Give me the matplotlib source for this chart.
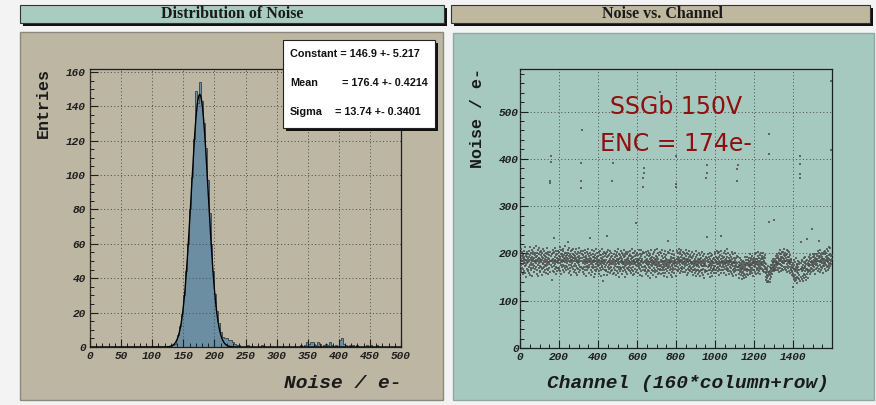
import numpy as np
import matplotlib.pyplot as plt
from matplotlib.patches import Rectangle
from matplotlib.font_manager import FontProperties

W, H = 876, 405

# Noise distribution, 160 bins from 0 to 500 e-
hist_counts = [
    0, 0, 0, 0, 0, 0, 0, 0, 0, 0, 0, 0, 0, 0, 0, 0, 0, 0, 0, 0,
    0, 0, 0, 0, 0, 0, 0, 0, 0, 0, 0, 0, 0, 0, 0, 0, 0, 0, 0, 0,
    0, 0, 1, 2, 4, 7, 12, 19, 30, 44, 60, 80, 99, 121, 149, 142, 154, 143, 130, 116,
    97, 78, 60, 44, 31, 21, 14, 9, 6, 5, 5, 4, 4, 3, 2, 1, 1, 0, 0, 0,
    0, 1, 0, 0, 0, 0, 0, 0, 1, 0, 0, 0, 0, 0, 0, 0, 0, 0, 0, 0,
    0, 0, 0, 0, 0, 0, 0, 0, 1, 0, 1, 3, 2, 3, 3, 2, 1, 3, 2, 0,
    1, 2, 1, 3, 1, 0, 1, 0, 4, 5, 2, 1, 0, 1, 0, 1, 0, 1, 0, 0,
    0, 0, 1, 0, 1, 0, 0, 1, 0, 0, 0, 0, 0, 0, 0, 0, 0, 0, 0, 0,
]
hist_range = (0, 500)

# gaussian fit result
fit_const, fit_const_err = 146.9, 5.217
fit_mean, fit_mean_err = 176.4, 0.4214
fit_sigma, fit_sigma_err = 13.74, 0.3401

# noise per channel (160*column+row), 40 channels per line
noise = [
    182, 171, 199, 165, 188, 176, 210, 160, 185, 194, 170, 183, 203, 157, 178, 190, 196, 167, 181, 206, 186, 162, 193, 189, 174, 213, 180, 158, 187, 199, 175, 186, 150, 195, 179, 168, 204, 184, 192, 163,
    189, 166, 198, 181, 158, 205, 184, 172, 193, 214, 176, 187, 155, 196, 190, 169, 180, 201, 164, 186, 208, 175, 192, 183, 153, 199, 178, 188, 170, 203, 184, 161, 191, 211, 174, 182, 196, 167, 185, 200,
    179, 215, 171, 192, 186, 157, 201, 183, 165, 194, 188, 176, 207, 152, 185, 198, 170, 191, 180, 212, 163, 184, 202, 174, 189, 160, 197, 181, 172, 206, 186, 168, 193, 187, 154, 200, 179, 177, 209, 169,
    190, 172, 197, 161, 184, 205, 176, 188, 166, 194, 182, 173, 201, 158, 185, 193, 168, 180, 211, 175, 187, 199, 164, 182, 191, 156, 203, 178, 170, 189, 196, 181, 160, 185, 204, 172, 192, 179, 167, 183,
    194, 176, 187, 180, 199, 171, 184, 207, 163, 189, 179, 200, 160, 191, 185, 174, 203, 182, 168, 192, 212, 177, 186, 157, 197, 183, 172, 206, 169, 190, 181, 198, 162, 188, 179, 170, 205, 185, 194, 165,
    186, 202, 170, 193, 180, 213, 162, 189, 199, 175, 184, 207, 156, 195, 187, 171, 198, 181, 192, 166, 205, 185, 176, 210, 160, 188, 196, 173, 183, 201, 169, 191, 182, 216, 164, 186, 194, 174, 200, 179,
    183, 197, 172, 190, 208, 167, 188, 180, 201, 158, 194, 185, 175, 212, 170, 191, 182, 199, 163, 187, 205, 176, 185, 195, 155, 192, 180, 207, 172, 186, 198, 168, 190, 183, 209, 161, 185, 196, 174, 191,
    178, 195, 166, 188, 203, 159, 183, 191, 173, 209, 181, 169, 198, 186, 155, 192, 179, 204, 167, 184, 195, 175, 211, 160, 188, 182, 171, 200, 190, 164, 185, 206, 172, 180, 193, 162, 186, 198, 169, 183,
    190, 168, 197, 180, 160, 205, 182, 172, 193, 186, 156, 200, 178, 185, 208, 166, 189, 181, 171, 195, 153, 191, 183, 174, 203, 180, 164, 188, 199, 170, 182, 210, 159, 186, 176, 195, 172, 184, 190, 167,
    182, 201, 164, 188, 178, 154, 196, 184, 171, 207, 180, 160, 192, 183, 169, 199, 176, 187, 150, 193, 181, 172, 205, 166, 185, 190, 157, 197, 178, 183, 172, 209, 162, 188, 180, 192, 168, 200, 175, 185,
    173, 194, 182, 163, 202, 176, 187, 157, 197, 180, 169, 206, 183, 165, 191, 178, 152, 196, 185, 171, 209, 181, 174, 188, 160, 199, 180, 167, 193, 184, 155, 204, 178, 186, 166, 194, 182, 172, 201, 162,
    187, 176, 198, 164, 183, 192, 155, 203, 180, 171, 194, 182, 161, 207, 175, 185, 168, 196, 181, 158, 189, 178, 205, 170, 184, 163, 192, 180, 172, 200, 152, 185, 195, 177, 166, 198, 181, 188, 157, 182,
    178, 198, 169, 186, 158, 206, 181, 174, 192, 165, 185, 196, 154, 183, 178, 203, 172, 188, 163, 194, 182, 171, 210, 159, 187, 180, 167, 199, 177, 189, 151, 196, 181, 172, 191, 162, 205, 184, 169, 193,
    167, 189, 180, 200, 157, 185, 177, 196, 171, 182, 162, 207, 181, 170, 192, 178, 150, 199, 186, 173, 165, 194, 180, 204, 160, 184, 175, 188, 170, 198, 181, 156, 191, 177, 203, 168, 186, 179, 164, 195,
    185, 171, 197, 163, 182, 206, 175, 188, 159, 195, 180, 169, 209, 183, 166, 190, 178, 154, 201, 181, 172, 192, 163, 186, 200, 177, 184, 157, 194, 180, 168, 205, 181, 165, 189, 176, 196, 160, 185, 174,
    181, 201, 166, 189, 177, 158, 196, 184, 173, 208, 170, 186, 180, 155, 199, 178, 191, 167, 185, 207, 162, 182, 194, 175, 171, 198, 183, 152, 188, 179, 166, 203, 176, 186, 160, 192, 181, 172, 200, 163,
    174, 193, 164, 184, 204, 156, 179, 187, 170, 196, 177, 160, 189, 181, 206, 166, 185, 175, 152, 194, 182, 171, 200, 162, 178, 188, 149, 197, 181, 169, 190, 176, 207, 158, 183, 173, 192, 165, 179, 187,
    184, 163, 198, 177, 155, 191, 179, 203, 170, 182, 160, 207, 175, 186, 166, 194, 178, 151, 189, 181, 172, 209, 163, 185, 176, 192, 157, 200, 179, 168, 188, 173, 197, 159, 182, 178, 204, 167, 186, 174,
    166, 187, 176, 201, 157, 181, 172, 194, 164, 184, 207, 169, 178, 159, 190, 182, 171, 198, 152, 185, 176, 165, 192, 179, 205, 158, 183, 173, 188, 167, 178, 197, 150, 186, 175, 182, 162, 203, 172, 180,
    191, 170, 181, 158, 200, 176, 186, 165, 183, 208, 172, 179, 155, 193, 182, 168, 188, 176, 199, 161, 184, 174, 150, 191, 179, 170, 206, 164, 183, 177, 190, 159, 197, 173, 182, 167, 186, 179, 153, 189,
    185, 196, 173, 188, 164, 205, 181, 177, 192, 162, 186, 200, 172, 183, 210, 167, 190, 179, 199, 176, 158, 187, 182, 204, 170, 193, 183, 163, 208, 179, 186, 171, 197, 168, 191, 182, 160, 203, 177, 188,
    181, 201, 170, 190, 178, 160, 199, 185, 174, 207, 165, 188, 179, 194, 155, 183, 200, 176, 186, 168, 198, 181, 159, 189, 183, 172, 206, 178, 166, 192, 185, 162, 187, 197, 173, 182, 167, 193, 179, 170,
    177, 160, 190, 181, 202, 166, 179, 171, 194, 155, 185, 178, 164, 198, 173, 183, 158, 188, 179, 168, 206, 163, 182, 175, 192, 153, 185, 178, 166, 196, 173, 181, 157, 189, 176, 165, 187, 179, 200, 161,
    172, 189, 162, 181, 152, 196, 176, 184, 166, 190, 178, 159, 202, 173, 182, 164, 187, 155, 180, 174, 194, 168, 177, 185, 149, 199, 173, 180, 160, 188, 176, 166, 183, 163, 193, 174, 154, 181, 170, 190,
    179, 163, 187, 171, 199, 156, 182, 175, 166, 192, 173, 181, 151, 189, 177, 164, 201, 174, 185, 159, 180, 170, 195, 162, 176, 184, 153, 197, 168, 179, 189, 165, 182, 173, 158, 191, 170, 180, 204, 166,
    187, 173, 199, 166, 181, 192, 159, 185, 177, 206, 170, 182, 191, 163, 200, 178, 172, 188, 154, 183, 180, 203, 168, 192, 176, 165, 197, 182, 173, 186, 158, 205, 179, 189, 166, 181, 195, 172, 184, 176,
    180, 191, 166, 185, 201, 172, 181, 159, 193, 177, 206, 168, 187, 180, 155, 198, 182, 173, 189, 164, 183, 209, 170, 179, 192, 162, 185, 176, 200, 168, 181, 191, 157, 184, 177, 197, 171, 187, 163, 182,
    175, 185, 161, 192, 170, 180, 203, 157, 177, 188, 164, 182, 174, 198, 152, 181, 191, 168, 179, 160, 186, 174, 201, 163, 180, 170, 190, 154, 182, 176, 165, 195, 172, 180, 159, 188, 177, 164, 193, 171,
    171, 156, 182, 164, 176, 149, 170, 190, 160, 174, 180, 155, 168, 186, 162, 175, 146, 172, 181, 158, 167, 178, 152, 174, 185, 160, 170, 147, 177, 165, 182, 157, 172, 168, 192, 155, 175, 166, 150, 180,
    175, 186, 162, 180, 168, 193, 157, 176, 187, 166, 179, 154, 190, 173, 164, 183, 176, 199, 160, 171, 181, 156, 177, 191, 168, 175, 162, 186, 180, 158, 195, 169, 176, 183, 153, 179, 188, 166, 173, 182,
    180, 166, 190, 176, 161, 198, 184, 172, 181, 157, 188, 177, 201, 165, 178, 189, 170, 182, 159, 194, 176, 185, 167, 204, 172, 181, 162, 191, 178, 168, 196, 174, 184, 156, 188, 179, 200, 170, 177, 190,
    181, 168, 194, 176, 162, 189, 178, 200, 166, 183, 173, 192, 160, 182, 197, 171, 179, 167, 190, 177, 160, 150, 168, 144, 158, 139, 164, 155, 147, 169, 142, 160, 152, 173, 140, 157, 163, 146, 161, 150,
    163, 146, 171, 155, 139, 167, 151, 175, 158, 170, 176, 163, 184, 170, 157, 179, 166, 188, 172, 181, 163, 185, 175, 168, 192, 172, 181, 165, 189, 176, 168, 194, 179, 172, 185, 164, 190, 177, 198, 181,
    175, 190, 166, 195, 180, 170, 201, 183, 161, 189, 178, 198, 169, 186, 207, 177, 192, 163, 184, 199, 175, 188, 204, 167, 181, 193, 173, 202, 180, 164, 191, 183, 210, 172, 188, 179, 197, 168, 185, 194,
    183, 201, 172, 190, 166, 196, 184, 207, 177, 187, 161, 199, 181, 174, 193, 170, 205, 184, 179, 163, 192, 186, 202, 172, 182, 158, 196, 178, 186, 168, 189, 165, 181, 162, 176, 155, 171, 160, 169, 152,
    171, 156, 180, 150, 167, 187, 146, 175, 162, 141, 168, 182, 155, 172, 149, 165, 191, 144, 178, 160, 169, 151, 175, 138, 164, 184, 148, 171, 158, 177, 145, 166, 181, 154, 172, 140, 163, 176, 152, 167,
    161, 179, 150, 168, 186, 145, 172, 162, 183, 152, 166, 176, 141, 170, 181, 156, 169, 190, 147, 174, 162, 180, 154, 171, 193, 150, 167, 177, 143, 184, 164, 173, 157, 187, 168, 148, 179, 161, 175, 166,
    174, 185, 163, 193, 178, 157, 188, 175, 166, 197, 181, 170, 190, 160, 182, 176, 202, 167, 185, 179, 162, 193, 173, 181, 199, 176, 187, 165, 180, 194, 171, 184, 156, 191, 177, 198, 175, 183, 168, 189,
    181, 194, 169, 199, 178, 188, 163, 184, 205, 174, 183, 194, 168, 190, 177, 201, 182, 161, 192, 185, 175, 207, 172, 186, 196, 165, 181, 189, 179, 200, 170, 193, 183, 158, 188, 198, 174, 180, 204, 177,
    188, 174, 198, 183, 168, 205, 179, 192, 163, 186, 200, 176, 189, 210, 171, 183, 195, 166, 191, 181, 206, 173, 185, 197, 178, 214, 169, 188, 199, 180, 212, 174, 186, 194, 165, 203, 183, 177, 196, 189,
]

# noisy / dead channels
hot_channels = [155, 156, 157, 158, 163, 173, 247, 313, 314, 315, 316, 359, 424, 444,
                470, 475, 476, 593, 632, 633, 634, 635, 718, 760, 799, 800, 801,
                956, 957, 958, 960, 1029, 1114, 1115, 1116, 1276, 1277, 1279, 1304,
                1400, 1434, 1435, 1436, 1437, 1438, 1440, 1471, 1496, 1534, 1594, 1595]
hot_noise = [348, 354, 394, 405, 144, 233, 225, 338, 354, 391, 462, 233, 141, 236,
             354, 391, 446, 264, 340, 359, 370, 380, 542, 226, 340, 347, 407,
             360, 370, 387, 234, 236, 354, 379, 386, 411, 453, 267, 270,
             128, 360, 369, 389, 406, 141, 224, 231, 251, 227, 418, 565]

TAN = '#bcb6a2'
TEAL = '#a6c9bf'
BAR_TEAL = '#a9ccc1'
BAR_TAN = '#bfb89f'

tickfont = FontProperties(family='Liberation Mono', weight='bold', style='italic', size=8)


def fx(x):
    return x / W


def fy(y):
    return 1 - y / H


def box(fig, x0, y0, x1, y1, zorder=-1, **kw):
    r = Rectangle((fx(x0), fy(y1)), (x1 - x0) / W, (y1 - y0) / H,
                  transform=fig.transFigure, zorder=zorder, **kw)
    fig.patches.append(r)
    return r


def axes_px(fig, x0, y0, x1, y1):
    return fig.add_axes([fx(x0), fy(y1), (x1 - x0) / W, (y1 - y0) / H])


def style_axes(ax, bg):
    ax.set_facecolor(bg)
    for sp in ax.spines.values():
        sp.set_color('#1e1e1e')
        sp.set_linewidth(0.9)
    ax.tick_params(which='both', direction='in', top=False, right=False,
                   colors='#1e1e1e')
    ax.tick_params(which='major', length=6, width=0.8, pad=3)
    ax.tick_params(which='minor', length=3, width=0.7)
    ax.grid(True, which='major', color='#4a4a4a', linestyle=(0, (1, 2.5)),
            linewidth=0.7)
    ax.set_axisbelow(False)
    for lab in ax.get_xticklabels() + ax.get_yticklabels():
        lab.set_fontproperties(tickfont)
        lab.set_color('#1e1e1e')


fig = plt.figure(figsize=(W / 100, H / 100), dpi=100, facecolor='#f3f3f3')

# pad backgrounds
box(fig, 20, 32, 443, 400, facecolor=TAN, edgecolor='#8c887c', linewidth=1.0)
box(fig, 453, 33, 874, 400, facecolor=TEAL, edgecolor='#8fa8a0', linewidth=1.0)

# title bars with drop shadow
box(fig, 23, 8, 447, 26, facecolor='#111111', edgecolor='none')
box(fig, 20, 5, 444, 23, facecolor=BAR_TEAL, edgecolor='#333333', linewidth=0.8)
fig.text(fx(232), fy(14.5), 'Distribution of Noise', ha='center', va='center',
         family='Liberation Serif', weight='bold', size=11.5, color='#1a1a1a')
box(fig, 454, 8, 873, 26, facecolor='#111111', edgecolor='none')
box(fig, 451, 5, 870, 23, facecolor=BAR_TAN, edgecolor='#333333', linewidth=0.8)
fig.text(fx(662), fy(14.5), 'Noise vs. Channel', ha='center', va='center',
         family='Liberation Serif', weight='bold', size=11.5, color='#1a1a1a')

# --- histogram of noise ---
ax1 = axes_px(fig, 90, 69, 401, 347)
edges = np.linspace(hist_range[0], hist_range[1], len(hist_counts) + 1)
ax1.stairs(hist_counts, edges, fill=True, facecolor='#6b8ea2',
           edgecolor='#33434d', linewidth=0.6, zorder=2)
xg = np.linspace(hist_range[0], hist_range[1], 2000)
ax1.plot(xg, fit_const * np.exp(-0.5 * ((xg - fit_mean) / fit_sigma) ** 2),
         color='black', linewidth=1.0, zorder=3)
ax1.set_xlim(*hist_range)
ax1.set_ylim(0, 161.7)
ax1.set_xticks(np.arange(0, 501, 50))
ax1.set_xticks(np.arange(0, 501, 10), minor=True)
ax1.set_yticks(np.arange(0, 161, 20))
ax1.set_yticks(np.arange(0, 161, 5), minor=True)
style_axes(ax1, TAN)

fig.text(fx(43), fy(103), 'Entries', rotation=90, ha='center', va='center',
         family='Liberation Mono', weight='bold', size=12, color='#1a1a1a')
fig.text(fx(401), fy(383), 'Noise / e-', ha='right', va='center',
         family='Liberation Mono', weight='bold', style='italic', size=14,
         color='#1a1a1a')

# fit parameter box
box(fig, 286, 43, 438, 131, zorder=5, facecolor='#111111', edgecolor='none')
box(fig, 283, 40, 435, 128, zorder=5, facecolor='white', edgecolor='#222222',
    linewidth=0.8)
pf = dict(family='Liberation Sans', weight='bold', size=7.8, color='#111111',
          va='center', ha='left', zorder=6)
fig.text(fx(290), fy(54), 'Constant = %.1f +- %.3f' % (fit_const, fit_const_err), **pf)
fig.text(fx(290), fy(83), 'Mean', **pf)
fig.text(fx(342), fy(83), '= %.1f +- %.4f' % (fit_mean, fit_mean_err), **pf)
fig.text(fx(290), fy(112), 'Sigma', **pf)
fig.text(fx(335), fy(112), '= %.2f +- %.4f' % (fit_sigma, fit_sigma_err), **pf)

# --- noise vs channel ---
ax2 = axes_px(fig, 520, 69, 832, 348)
channels = np.arange(len(noise))
values = np.array(noise, dtype=float)
values[hot_channels] = hot_noise
ax2.scatter(channels, values, s=2.0, marker='s', c='#4c4c4c', alpha=0.8,
            linewidths=0, zorder=3)
ax2.set_xlim(0, 1600)
ax2.set_ylim(0, 590)
ax2.set_xticks(np.arange(0, 1401, 200))
ax2.set_xticks(np.arange(0, 1600, 50), minor=True)
ax2.set_yticks(np.arange(0, 501, 100))
ax2.set_yticks(np.arange(0, 581, 20), minor=True)
style_axes(ax2, TEAL)
ax2.tick_params(axis='y', which='major', pad=1)

fig.text(fx(478), fy(118), 'Noise / e-', rotation=90, ha='center', va='center',
         family='Liberation Mono', weight='bold', size=12, color='#1a1a1a')
fig.text(fx(829), fy(383), 'Channel (160*column+row)', ha='right', va='center',
         family='Liberation Mono', weight='bold', style='italic', size=14,
         color='#1a1a1a')

ax2.text(0.5, 0.865, 'SSGb 150V', transform=ax2.transAxes, ha='center',
         va='center', family='DejaVu Sans', size=17, color='#8e0f0f')
ax2.text(0.5, 0.73, 'ENC = 174e-', transform=ax2.transAxes, ha='center',
         va='center', family='DejaVu Sans', size=17, color='#8e0f0f')

fig.savefig('out.png', dpi=100, facecolor=fig.get_facecolor())
